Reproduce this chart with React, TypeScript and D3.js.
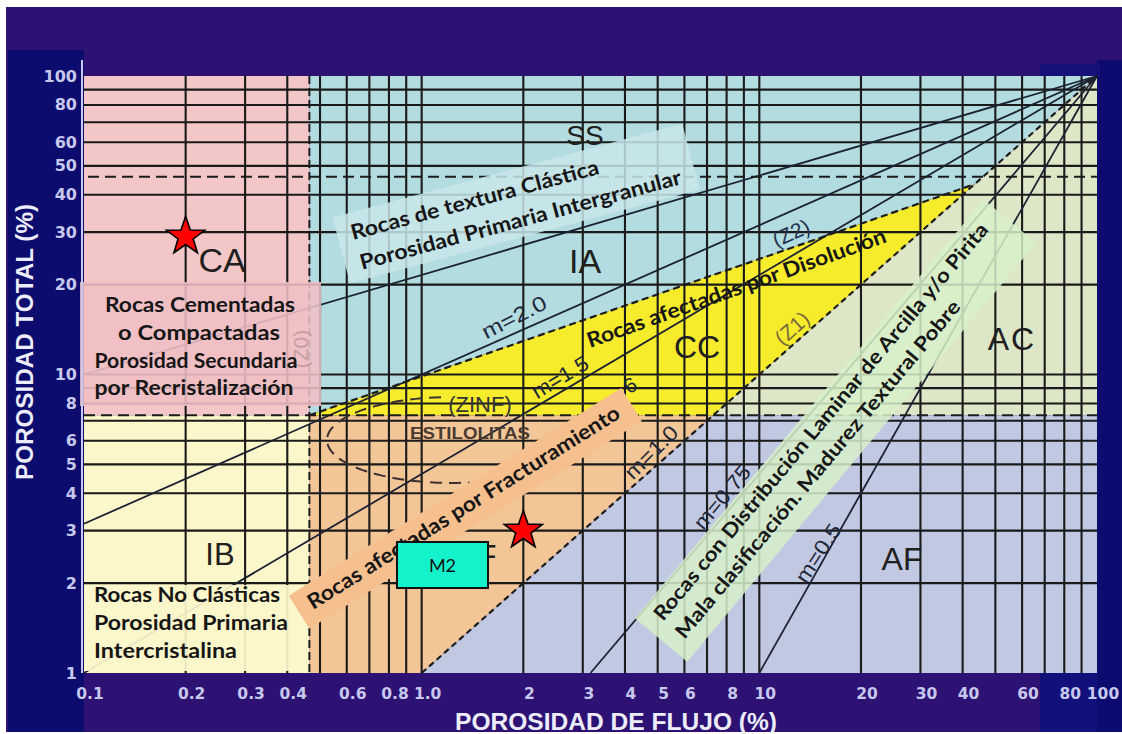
import React from "react";
import * as d3 from "d3";

const W = 1122;
const H = 734;

// axis ticks
const X_TICKS = [0.1, 0.2, 0.3, 0.4, 0.6, 0.8, 1, 2, 3, 4, 5, 6, 8, 10, 20, 30, 40, 60, 80, 100];
const X_TICK_LABELS = ["0.1", "0.2", "0.3", "0.4", "0.6", "0.8", "1.0", "2", "3", "4", "5", "6", "8", "10", "20", "30", "40", "60", "80", "100"];
const Y_TICKS = [1, 2, 3, 4, 5, 6, 8, 10, 20, 30, 40, 50, 60, 80, 100];
const Y_TICK_LABELS = ["1", "2", "3", "4", "5", "6", "8", "10", "20", "30", "40", "50", "60", "80", "100"];
const GRID_X = [0.2, 0.3, 0.4, 0.5, 0.6, 0.7, 0.8, 0.9, 1, 2, 3, 4, 5, 6, 7, 8, 9, 10, 20, 30, 40, 50, 60, 70, 80, 90];
const GRID_Y = [2, 3, 4, 5, 6, 7, 8, 9, 10, 20, 30, 40, 50, 60, 70, 80, 90];

// zone cut values
const X_CUT = 0.465;
const Y_CUT_LOW = 7.3;
const Y_CUT_HIGH = 46;
const Z2_TOP = 43.4;

// regions (flow porosity, total porosity)
const REGION_CA = [[0.1, Y_CUT_LOW], [X_CUT, Y_CUT_LOW], [X_CUT, 100], [0.1, 100]];
const REGION_IB = [[0.1, 1], [X_CUT, 1], [X_CUT, Y_CUT_LOW], [0.1, Y_CUT_LOW]];
const REGION_SS_IA = [[X_CUT, Y_CUT_LOW], [X_CUT, 100], [100, 100], [Z2_TOP, Z2_TOP]];
const REGION_CC = [[X_CUT, Y_CUT_LOW], [Z2_TOP, Z2_TOP], [Y_CUT_LOW, Y_CUT_LOW]];
const REGION_AC = [[Y_CUT_LOW, Y_CUT_LOW], [100, 100], [100, Y_CUT_LOW]];
const REGION_F = [[X_CUT, 1], [1, 1], [Y_CUT_LOW, Y_CUT_LOW], [X_CUT, Y_CUT_LOW]];
const REGION_AF = [[1, 1], [100, 1], [100, Y_CUT_LOW], [Y_CUT_LOW, Y_CUT_LOW]];

// cementation exponent lines converging at (100,100)
const M_VALUES = [3.0, 2.0, 1.5, 0.75, 0.5];
const M_UNIT_LINE = [[1, 1], [100, 100]];
const Z2_LINE = [[X_CUT, Y_CUT_LOW], [Z2_TOP, Z2_TOP]];

// samples
const SAMPLE_X = [0.2, 2];
const SAMPLE_Y = [29, 3];
const M2_BOX_X = [0.845, 1.572];
const M2_BOX_Y = [1.926, 2.747];

const COLORS = {
  CA: "#f3c7c7",
  IB: "#fcf6cb",
  SS: "#b3dce0",
  CC: "#f6ec2c",
  AC: "#dee6c8",
  F: "#f3c697",
  AF: "#c1c8e2",
};

function starPath(cx: number, cy: number, R: number, r: number) {
  const pts: string[] = [];
  for (let i = 0; i < 10; i++) {
    const a = -Math.PI / 2 + (i * Math.PI) / 5;
    const rad = i % 2 === 0 ? R : r;
    pts.push(`${cx + rad * Math.cos(a)},${cy + rad * Math.sin(a)}`);
  }
  return "M" + pts.join("L") + "Z";
}

export default function App() {
  const x = d3.scaleLog().domain([0.1, 100]).range([84, 1097]);
  const y = d3.scaleLog().domain([1, 100]).range([673, 76]);
  const poly = (pts: number[][]) => pts.map(([a, b]) => `${x(a)},${y(b)}`).join(" ");
  const line = d3
    .line<number[]>()
    .x((d) => x(d[0]))
    .y((d) => y(d[1]));

  const mLine = (m: number) => {
    const x0 = Math.max(0.1, 100 * Math.pow(10, -2 * m));
    const y0 = 100 * Math.pow(x0 / 100, 1 / m);
    return line([[x0, y0], [100, 100]]) as string;
  };

  const x0 = x(0.1), x1 = x(100), y0 = y(1), y1 = y(100);

  // ellipse (estilolitas)
  const ecx = 452, ecy = 440, erx = 125, ery = 43;
  const ellPts = d3.range(-95, -281, -3).map((t) => {
    const a = (t * Math.PI) / 180;
    return [ecx + erx * Math.cos(a), ecy + ery * Math.sin(a)] as [number, number];
  });
  const ellPath = d3.line()(ellPts) as string;

  const boxFont = "Lato, 'Open Sans', sans-serif";
  const arial = "'Liberation Sans', Arial, sans-serif";
  const tickFont = "'DejaVu Sans', sans-serif";

  return (
    <svg
      width={W}
      height={H}
      style={{ position: "absolute", left: 0, top: 0, background: "#ffffff" }}
    >
      {/* frame */}
      <rect x={6} y={7} width={W - 6} height={725} fill="#2d1273" />
      <rect x={8} y={50} width={76} height={682} fill="#0c0b6e" />
      <rect x={1040} y={673} width={82} height={59} fill="#12107a" />
      <rect x={1097} y={60} width={25} height={672} fill="#0c0b70" />
      <rect x={1040} y={64} width={60} height={12} fill="#16107a" />

      {/* regions */}
      <polygon points={poly(REGION_CA)} fill={COLORS.CA} />
      <polygon points={poly(REGION_IB)} fill={COLORS.IB} />
      <polygon points={poly(REGION_SS_IA)} fill={COLORS.SS} />
      <polygon points={poly(REGION_AC)} fill={COLORS.AC} />
      <polygon points={poly(REGION_F)} fill={COLORS.F} />
      <polygon points={poly(REGION_AF)} fill={COLORS.AF} />
      <polygon points={poly(REGION_CC)} fill={COLORS.CC} />

      {/* grid */}
      <g stroke="#1a1a1a" strokeWidth={2.1}>
        {GRID_X.map((v) => (
          <line key={"gx" + v} x1={x(v)} x2={x(v)} y1={y1} y2={y0} />
        ))}
        {GRID_Y.map((v) => (
          <line key={"gy" + v} x1={x0} x2={x1} y1={y(v)} y2={y(v)} />
        ))}
      </g>

      {/* m lines */}
      <g stroke="#1b2232" strokeWidth={1.8} fill="none">
        {M_VALUES.map((m) => (
          <path key={"m" + m} d={mLine(m)} />
        ))}
      </g>

      {/* dashed boundaries */}
      <g stroke="#1c1c1c" strokeWidth={2} fill="none">
        <line x1={x0 + 4} x2={x1} y1={y(Y_CUT_HIGH)} y2={y(Y_CUT_HIGH)} strokeDasharray="11 6" />
        <line x1={x0} x2={x1} y1={y(Y_CUT_LOW)} y2={y(Y_CUT_LOW)} strokeDasharray="11 6" />
        <line x1={x(X_CUT)} x2={x(X_CUT)} y1={y1} y2={y0} strokeDasharray="8 4" />
        <path d={line(Z2_LINE) as string} strokeDasharray="7 4" strokeWidth={2.2} />
        <path d={line(M_UNIT_LINE) as string} strokeDasharray="6 4" strokeWidth={2.2} />
        <path d={ellPath} strokeDasharray="12 7" stroke="#3a3030" />
      </g>

      {/* text boxes */}
      <rect x={80} y={282} width={241} height={124} fill="#efbfc5" opacity={0.88} />
      <rect x={85} y={585} width={215} height={86} fill={COLORS.IB} opacity={0.92} />
      <g transform="translate(353,240) rotate(-15)">
        <rect x={-14} y={-27} width={362} height={68} fill="#c9e6ea" opacity={0.85} />
      </g>
      <g transform="translate(313,610) rotate(-32)">
        <rect x={-13} y={-25} width={392} height={39} fill="#f5bf8e" />
      </g>
      <g transform="translate(663,622) rotate(-50.2)">
        <rect x={-15} y={-24} width={545} height={68} fill="#d7f0ca" opacity={0.85} />
      </g>

      {/* region labels */}
      <g fontFamily={arial} fill="#202020" textAnchor="middle" dominantBaseline="central">
        <text x={585} y={135} fontSize={28}>SS</text>
        <text x={222} y={260} fontSize={34}>CA</text>
        <text x={585} y={261} fontSize={34}>IA</text>
        <text x={697} y={347} fontSize={32}>CC</text>
        <text x={1012} y={339} fontSize={32} letterSpacing={2}>AC</text>
        <text x={220} y={554} fontSize={31}>IB</text>
        <text x={477} y={556} fontSize={32} textAnchor="start">F</text>
        <text x={902} y={559} fontSize={32}>AF</text>
      </g>

      {/* m labels */}
      <g fontFamily={arial} fill="#1e2838" fontSize={21} textAnchor="middle" dominantBaseline="central">
        <text transform="translate(514,317) rotate(-27)" textLength={70} lengthAdjust="spacingAndGlyphs">m=2.0</text>
        <text transform="translate(560,377) rotate(-31)" textLength={62} lengthAdjust="spacingAndGlyphs">m=1.5</text>
        <text transform="translate(630,385) rotate(-30)">6</text>
        <text transform="translate(651,452) rotate(-45)" textLength={66} lengthAdjust="spacingAndGlyphs">m=1.0</text>
        <text transform="translate(722,497) rotate(-50)" textLength={76} lengthAdjust="spacingAndGlyphs">m=0.75</text>
        <text transform="translate(818,553) rotate(-57)" textLength={66} lengthAdjust="spacingAndGlyphs">m=0.5</text>
        <text transform="translate(791,233) rotate(-24)" fill="#24324e">(Z2)</text>
        <text transform="translate(792,328) rotate(-42)" fill="#7a6a3a">(Z1)</text>
        <text transform="translate(300,349) rotate(-90)" fill="#a88a8a" opacity={0.6}>(Z0)</text>
        <text x={480} y={404} fontSize={22} fill="#353535">(ZINF)</text>
        <text x={470} y={433} fontSize={16} fontWeight="bold" fill="#4a3a30" textLength={120} lengthAdjust="spacingAndGlyphs">ESTILOLITAS</text>
      </g>

      {/* box texts */}
      <g fontFamily={boxFont} fontWeight={700} fill="#161616" fontSize={21} style={{ whiteSpace: "pre" }}>
        <g textAnchor="middle">
          <text x={200} y={312} textLength={190} lengthAdjust="spacingAndGlyphs">Rocas Cementadas</text>
          <text x={199} y={340} textLength={162} lengthAdjust="spacingAndGlyphs">o  Compactadas</text>
          <text x={196} y={368} textLength={203} lengthAdjust="spacingAndGlyphs">Porosidad Secundaria</text>
          <text x={194} y={395} textLength={199} lengthAdjust="spacingAndGlyphs">por Recristalización</text>
        </g>
        <text x={94} y={602} textLength={186} lengthAdjust="spacingAndGlyphs">Rocas No Clásticas</text>
        <text x={94} y={630} textLength={194} lengthAdjust="spacingAndGlyphs">Porosidad Primaria</text>
        <text x={94} y={658} textLength={143} lengthAdjust="spacingAndGlyphs">Intercristalina</text>
        <g transform="translate(353,240) rotate(-15)">
          <text x={0} y={0} textLength={256} lengthAdjust="spacingAndGlyphs">Rocas  de textura Clástica</text>
          <text x={1} y={31} textLength={332} lengthAdjust="spacingAndGlyphs">Porosidad Primaria Intergranular</text>
        </g>
        <g transform="translate(590,348) rotate(-19.6)">
          <text x={0} y={0} textLength={316} lengthAdjust="spacingAndGlyphs">Rocas afectadas por Disolución</text>
        </g>
        <g transform="translate(313,610) rotate(-32)">
          <text x={0} y={0} textLength={364} lengthAdjust="spacingAndGlyphs">Rocas afectadas por Fracturamiento</text>
        </g>
        <g transform="translate(663,622) rotate(-50.2)" fontSize={20}>
          <text x={0} y={0} textLength={510} lengthAdjust="spacingAndGlyphs">Rocas con Distribución Laminar de Arcilla y/o Pirita</text>
          <text x={0} y={28} textLength={433} lengthAdjust="spacingAndGlyphs">Mala clasificación.  Madurez Textural Pobre</text>
        </g>
      </g>

      {/* plot left edge */}
      <line x1={82} x2={82} y1={60} y2={y0} stroke="#c9c9f0" strokeWidth={2} />

      {/* tick labels */}
      <g fontFamily={tickFont} fontWeight="bold" fill="#c6c8ee">
        {Y_TICKS.map((v, i) => (
          <text key={"yt" + v} x={77} y={y(v)} fontSize={16} textAnchor="end" dominantBaseline="central">
            {Y_TICK_LABELS[i]}
          </text>
        ))}
        {X_TICKS.map((v, i) => (
          <text key={"xt" + v} x={x(v) + 6} y={699} fontSize={15.5} textAnchor="middle">
            {X_TICK_LABELS[i]}
          </text>
        ))}
      </g>

      {/* axis titles */}
      <text x={616} y={730} fontFamily={arial} fontWeight="bold" fontSize={23} fill="#ececfa" textAnchor="middle" textLength={322} lengthAdjust="spacingAndGlyphs">
        POROSIDAD DE FLUJO (%)
      </text>
      <text transform="translate(33,342) rotate(-90)" fontFamily={arial} fontWeight="bold" fontSize={24} fill="#ececfa" textAnchor="middle" textLength={276} lengthAdjust="spacingAndGlyphs">
        POROSIDAD TOTAL (%)
      </text>

      {/* M2 label box */}
      <rect
        x={x(M2_BOX_X[0])}
        y={y(M2_BOX_Y[1])}
        width={x(M2_BOX_X[1]) - x(M2_BOX_X[0])}
        height={y(M2_BOX_Y[0]) - y(M2_BOX_Y[1])}
        fill="#14f2cc"
        stroke="#111"
        strokeWidth={2}
      />
      <text
        x={(x(M2_BOX_X[0]) + x(M2_BOX_X[1])) / 2}
        y={(y(M2_BOX_Y[0]) + y(M2_BOX_Y[1])) / 2}
        fontFamily="Lato, 'Open Sans', sans-serif"
        fontSize={18}
        fill="#111"
        textAnchor="middle"
        dominantBaseline="central"
      >
        M2
      </text>

      {/* samples */}
      {SAMPLE_X.map((v, i) => (
        <path key={"s" + i} d={starPath(x(v), y(SAMPLE_Y[i]), 20, 8)} fill="#ff0000" stroke="#000" strokeWidth={1.6} />
      ))}
    </svg>
  );
}
